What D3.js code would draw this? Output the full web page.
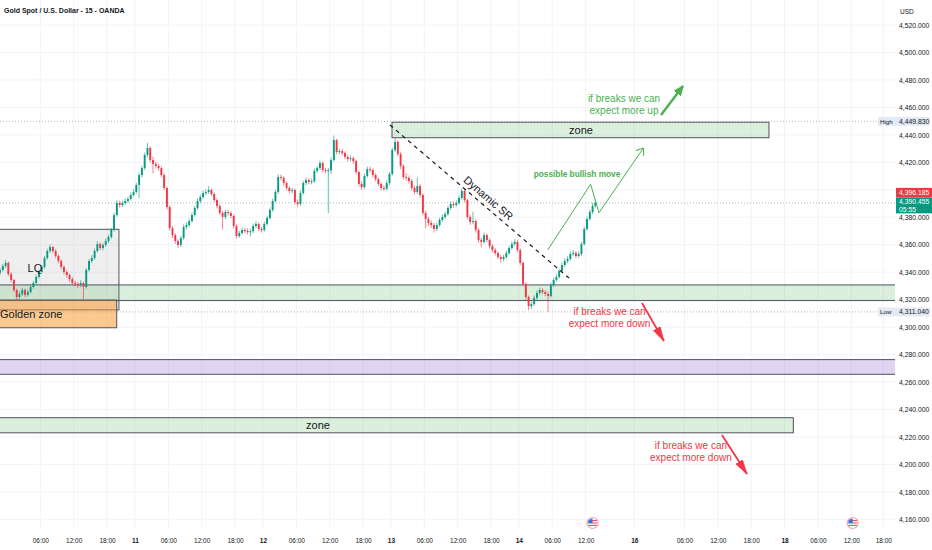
<!DOCTYPE html>
<html>
<head>
<meta charset="utf-8">
<script src="https://cdn.jsdelivr.net/npm/d3@7"></script>
<style>
  html, body { margin: 0; padding: 0; background: #fff; }
  svg { display: block; font-family: "Liberation Sans", Arial, sans-serif; }
</style>
</head>
<body>
<svg id="chart" width="932" height="550"></svg>
<script>
/*** DATA ********************************************************************/

// 30-minute candles, left to right. open = previous close.
const firstOpen = 4339.5;
const closes = [
  4341.6, 4344.5, 4346.7, 4338.6, 4334.3, 4327.0, 4321.9, 4324.1, 4327.0, 4323.4,
  4325.5, 4329.2, 4332.1, 4336.5, 4340.1, 4343.7, 4350.3, 4355.4, 4358.3, 4355.4,
  4351.8, 4348.1, 4343.7, 4340.1, 4337.9, 4335.0, 4332.1, 4331.4, 4330.8, 4332.1,
  4329.2, 4341.6, 4348.1, 4350.3, 4355.4, 4360.5, 4357.6, 4359.8, 4362.7, 4365.6,
  4370.7, 4381.6, 4390.4, 4388.9, 4390.4, 4391.8, 4393.3, 4396.2, 4398.4, 4403.5,
  4410.7, 4415.8, 4425.3, 4430.4, 4421.7, 4418.8, 4417.3, 4415.8, 4410.7, 4401.3,
  4387.4, 4372.1, 4367.0, 4362.7, 4359.8, 4364.9, 4372.9, 4374.3, 4377.2, 4381.6,
  4386.7, 4391.8, 4394.7, 4397.6, 4398.4, 4399.8, 4396.9, 4392.5, 4388.2, 4383.1,
  4380.2, 4383.8, 4383.0, 4380.9, 4373.6, 4366.3, 4368.5, 4370.7, 4370.0, 4369.2,
  4369.8, 4373.6, 4375.1, 4371.4, 4370.7, 4375.1, 4379.4, 4385.3, 4391.8, 4398.4,
  4409.3, 4408.6, 4404.9, 4401.3, 4399.1, 4399.8, 4391.1, 4389.6, 4397.6, 4404.9,
  4407.1, 4405.6, 4406.2, 4413.7, 4415.8, 4419.5, 4414.4, 4413.7, 4414.2, 4421.7,
  4436.2, 4427.5, 4428.2, 4426.8, 4423.9, 4422.4, 4423.0, 4420.9, 4412.9, 4404.2,
  4402.0, 4410.0, 4415.1, 4414.4, 4410.7, 4407.8, 4404.2, 4401.3, 4400.7, 4404.9,
  4411.5, 4429.0, 4434.8, 4426.0, 4417.3, 4409.3, 4408.6, 4406.4, 4401.3, 4398.4,
  4402.7, 4396.2, 4383.1, 4378.7, 4375.8, 4374.3, 4371.4, 4374.3, 4378.0, 4380.2,
  4382.3, 4386.7, 4389.6, 4388.9, 4390.4, 4394.0, 4399.1, 4392.5, 4380.2, 4376.5,
  4377.2, 4370.7, 4363.4, 4362.0, 4367.0, 4363.4, 4359.0, 4356.1, 4353.9, 4351.0,
  4349.6, 4351.0, 4353.9, 4357.6, 4360.5, 4362.0, 4356.1, 4346.7, 4331.4, 4321.9,
  4315.3, 4316.8, 4321.2, 4324.8, 4327.0, 4325.5, 4324.1, 4322.6, 4330.6, 4334.3,
  4336.5, 4340.8, 4345.2, 4348.1, 4349.6, 4353.2, 4353.9, 4351.8, 4353.2, 4360.5,
  4371.4, 4378.7, 4383.8, 4388.2, 4390.455
];
const highs = [
  4343.2, 4346.0, 4348.9, 4347.8, 4339.9, 4335.1, 4328.0, 4326.0, 4328.6, 4328.1,
  4327.2, 4330.9, 4333.6, 4338.2, 4341.8, 4345.0, 4351.7, 4357.0, 4360.0, 4359.2,
  4356.6, 4353.0, 4349.3, 4345.0, 4341.5, 4339.0, 4336.4, 4333.8, 4333.0, 4334.2,
  4333.0, 4343.0, 4349.5, 4352.4, 4357.1, 4362.6, 4361.8, 4361.3, 4364.5, 4367.2,
  4372.3, 4383.1, 4392.4, 4392.0, 4392.1, 4393.6, 4395.0, 4397.9, 4400.4, 4405.1,
  4412.3, 4417.6, 4427.0, 4434.1, 4431.6, 4424.0, 4420.6, 4419.0, 4417.0, 4412.0,
  4402.5, 4388.6, 4373.8, 4368.5, 4364.0, 4366.5, 4374.6, 4376.2, 4378.9, 4383.4,
  4388.2, 4393.6, 4396.3, 4399.5, 4400.3, 4402.6, 4401.0, 4398.0, 4393.7, 4389.4,
  4384.5, 4385.6, 4385.5, 4384.3, 4382.0, 4374.8, 4370.2, 4372.6, 4372.2, 4371.7,
  4371.6, 4375.5, 4377.0, 4376.3, 4373.0, 4376.8, 4381.0, 4387.0, 4393.4, 4400.0,
  4411.2, 4411.0, 4409.8, 4406.1, 4402.6, 4401.5, 4400.9, 4393.0, 4399.3, 4406.5,
  4408.9, 4408.6, 4408.0, 4415.5, 4417.4, 4421.3, 4420.6, 4416.1, 4415.8, 4423.5,
  4439.5, 4437.0, 4430.0, 4429.8, 4428.0, 4425.5, 4425.0, 4424.3, 4422.0, 4414.0,
  4406.0, 4411.7, 4416.9, 4417.0, 4415.6, 4412.0, 4409.0, 4405.5, 4403.0, 4406.6,
  4413.1, 4430.6, 4437.7, 4436.0, 4427.4, 4418.6, 4412.0, 4410.3, 4407.7, 4403.0,
  4409.0, 4404.0, 4397.4, 4384.6, 4380.2, 4377.6, 4375.8, 4376.0, 4379.7, 4382.0,
  4384.0, 4388.4, 4391.5, 4391.4, 4392.3, 4395.8, 4401.0, 4400.5, 4393.6, 4382.0,
  4384.0, 4378.5, 4372.0, 4365.0, 4368.8, 4368.2, 4364.6, 4360.4, 4357.5, 4355.2,
  4352.6, 4352.7, 4355.6, 4359.3, 4362.4, 4364.0, 4363.3, 4357.3, 4347.9, 4332.6,
  4323.0, 4318.6, 4322.9, 4326.6, 4328.8, 4328.4, 4327.0, 4325.8, 4332.3, 4336.0,
  4338.4, 4342.5, 4347.0, 4350.0, 4351.6, 4355.0, 4356.0, 4355.3, 4355.0, 4362.2,
  4373.2, 4380.5, 4385.6, 4390.4, 4392.6
];
const lows = [
  4338.0, 4340.5, 4343.0, 4337.2, 4332.6, 4325.4, 4319.0, 4320.5, 4322.8, 4321.7,
  4322.1, 4324.3, 4328.0, 4331.0, 4335.2, 4338.9, 4342.5, 4349.1, 4354.0, 4353.8,
  4350.2, 4346.5, 4342.0, 4338.4, 4336.0, 4333.1, 4330.5, 4329.6, 4328.4, 4328.9,
  4319.5, 4328.0, 4340.4, 4346.6, 4349.0, 4354.2, 4356.0, 4355.9, 4358.4, 4361.1,
  4364.3, 4369.5, 4380.3, 4387.0, 4387.5, 4389.0, 4390.3, 4392.1, 4395.0, 4397.2,
  4394.0, 4409.0, 4414.5, 4423.8, 4420.0, 4412.0, 4415.6, 4414.0, 4409.0, 4399.6,
  4385.5, 4370.3, 4364.8, 4360.6, 4357.6, 4358.5, 4363.5, 4371.0, 4372.8, 4376.0,
  4380.4, 4385.2, 4390.2, 4393.2, 4396.1, 4397.0, 4395.3, 4391.0, 4386.4, 4381.5,
  4371.0, 4378.6, 4381.2, 4379.2, 4371.8, 4364.5, 4365.0, 4367.2, 4368.3, 4367.5,
  4366.0, 4368.4, 4372.2, 4369.9, 4368.8, 4369.5, 4374.0, 4378.2, 4384.0, 4390.5,
  4397.0, 4406.8, 4403.2, 4399.6, 4397.4, 4397.5, 4389.4, 4387.6, 4388.4, 4396.3,
  4403.4, 4403.9, 4404.0, 4405.0, 4412.2, 4414.5, 4412.7, 4411.9, 4383.1, 4411.6,
  4420.5, 4425.8, 4425.9, 4425.0, 4422.2, 4420.6, 4420.9, 4419.0, 4411.2, 4402.4,
  4399.8, 4400.7, 4408.8, 4412.6, 4409.0, 4406.0, 4402.6, 4399.5, 4399.0, 4399.4,
  4403.6, 4410.3, 4427.6, 4424.3, 4415.0, 4407.5, 4406.7, 4404.5, 4399.5, 4396.6,
  4397.0, 4394.4, 4381.3, 4372.0, 4373.7, 4372.2, 4368.9, 4370.0, 4373.0, 4376.5,
  4378.8, 4381.0, 4385.3, 4387.0, 4387.4, 4389.0, 4392.8, 4390.9, 4378.4, 4374.5,
  4374.9, 4368.8, 4361.6, 4358.0, 4360.7, 4361.7, 4357.2, 4354.3, 4352.0, 4349.3,
  4347.0, 4348.0, 4349.8, 4352.5, 4356.2, 4359.0, 4354.4, 4345.0, 4329.6, 4319.8,
  4312.4, 4313.2, 4315.5, 4319.8, 4323.3, 4323.8, 4322.4, 4311.04, 4321.4, 4329.2,
  4332.8, 4335.3, 4339.6, 4343.7, 4346.6, 4348.3, 4351.8, 4350.2, 4350.5, 4352.0,
  4359.3, 4370.0, 4377.4, 4382.3, 4386.8
];
// time is counted in 15-minute bars, 0 = day 10 00:00
const firstBar = -5;
const barsPerCandle = 2;

const priceTicks = [4160, 4180, 4200, 4220, 4240, 4260, 4280, 4300, 4320, 4340,
                    4360, 4380, 4400, 4420, 4440, 4460, 4480, 4500, 4520];
const timeLabels = ["06:00", "12:00", "18:00", "11", "06:00", "12:00", "18:00", "12",
                    "06:00", "12:00", "18:00", "13", "06:00", "12:00", "18:00", "14",
                    "06:00", "12:00", "16", "06:00", "12:00", "18:00", "18",
                    "06:00", "12:00", "18:00"];
const timeBars   = [24, 48, 72, 92, 116, 140, 164, 184,
                    208, 232, 256, 276, 300, 324, 348, 368,
                    392, 416, 451, 487, 511, 535, 559,
                    583, 607, 630];
const dayLabels = ["11", "12", "13", "14", "16", "18"];
const eventBars = [421, 608];

const lastPrice = 4390.455, markPrice = 4396.185, countdown = "05:55";
const rangeHigh = 4449.830, rangeLow = 4311.040;

// boxes: [fromBar, toBar, lowPrice, highPrice]
const upperZone  = [276.8, 547.8, 4437.9, 4449.2];
const middleZone = [-9, 650, 4319.3, 4330.7];
const purpleZone = [-9, 650, 4265.6, 4276.3];
const lowerZone  = [-9, 565.3, 4223.0, 4234.0];
const goldenZone = [-9, 78.9, 4299.5, 4319.7];
const lqBox      = [-9, 80.5, 4312.5, 4371.2];

// lines: [bar, price] points
const dynamicSR   = [[275.3, 4447.2], [404.0, 4335.7]];
const bullishPath = [[388.7, 4356.1], [419.6, 4404.0], [425.6, 4383.3], [457.4, 4430.2]];
const upArrow     = [[470.2, 4454.4], [486.0, 4475.6]];
const downArrows  = [[[456.5, 4317.5], [472.3, 4289.8]], [[514.0, 4221.4], [532.0, 4193.0]]];

// notes: [bar, price] of the first line
const upNote = ["if breaks we can", "expect more up"];
const upNoteAt = [443.6, 4466.6];
const downNote = ["if breaks we can", "expect more down"];
const downNoteAt = [[433.2, 4311.9], [491.7, 4214.1]];

/*** CHART *******************************************************************/

const plotW = 895, plotH = 530;
const GREEN = "#089981", RED = "#f23645", TEXT = "#131722";
const NOTE_GREEN = "#4caf50", BOX_LINE = "#50535e";

const x = d3.scaleLinear().domain([-5, 638.4]).range([0, plotW]);
const y = d3.scaleLinear().domain([4160, 4520]).range([519.3, 25]);

const svg = d3.select("#chart");
const defs = svg.append("defs");

defs.append("clipPath").attr("id", "plotClip")
  .append("rect").attr("width", plotW).attr("height", plotH);

function marker(id, w, h, color, open) {
  let m = defs.append("marker")
    .attr("id", id)
    .attr("markerUnits", "userSpaceOnUse")
    .attr("viewBox", "0 0 " + w + " " + h)
    .attr("refX", w - 0.5).attr("refY", h / 2)
    .attr("markerWidth", w).attr("markerHeight", h)
    .attr("orient", "auto");
  m.append("path")
    .attr("d", "M0,0 L" + w + "," + h / 2 + " L0," + h + (open ? "" : " Z"))
    .attr("fill", open ? "none" : color)
    .attr("stroke", color)
    .attr("stroke-width", open ? 1 : 0.5);
}
marker("openHead", 7, 10, NOTE_GREEN, true);
marker("greenHead", 10, 9, NOTE_GREEN, false);
marker("redHead", 15, 8, RED, false);

/* grid */
let grid = svg.append("g").attr("class", "grid");
grid.selectAll("line.h").data(priceTicks).enter().append("line")
  .attr("x1", 0).attr("x2", plotW)
  .attr("y1", d => y(d)).attr("y2", d => y(d))
  .attr("stroke", "#f0f3fa");
grid.selectAll("line.v").data(timeBars).enter().append("line")
  .attr("x1", d => x(d)).attr("x2", d => x(d))
  .attr("y1", 0).attr("y2", plotH)
  .attr("stroke", "#f0f3fa");

let plot = svg.append("g").attr("clip-path", "url(#plotClip)");

/* boxes */
function box(b, fill) {
  plot.append("rect")
    .attr("x", x(b[0])).attr("width", x(b[1]) - x(b[0]))
    .attr("y", y(b[3])).attr("height", y(b[2]) - y(b[3]))
    .attr("fill", fill)
    .attr("stroke", BOX_LINE)
    .attr("stroke-width", 1);
}
box(lqBox, "rgba(120,123,134,0.12)");
box(middleZone, "rgba(76,175,80,0.2)");
box(goldenZone, "rgba(247,150,40,0.52)");
box(purpleZone, "rgba(126,87,194,0.25)");
box(lowerZone, "rgba(76,175,80,0.2)");
box(upperZone, "rgba(76,175,80,0.2)");

/* range high / low and last price lines */
[rangeHigh, rangeLow, lastPrice].forEach(function(p) {
  plot.append("line")
    .attr("x1", 0).attr("x2", plotW)
    .attr("y1", y(p)).attr("y2", y(p))
    .attr("stroke", "#9598a1")
    .attr("stroke-opacity", 0.7)
    .attr("stroke-dasharray", "1,2");
});

/* candles */
let candles = closes.map(function(c, i) {
  return {
    bar: firstBar + i * barsPerCandle,
    open: i ? closes[i - 1] : firstOpen,
    high: highs[i], low: lows[i], close: c
  };
});
let bodyW = (x(barsPerCandle) - x(0)) * 0.68;

let candleG = plot.selectAll("g.candle").data(candles).enter()
  .append("g").attr("class", "candle")
  .attr("fill", d => d.close >= d.open ? GREEN : RED)
  .attr("stroke", d => d.close >= d.open ? GREEN : RED);

candleG.append("line")
  .attr("x1", d => x(d.bar)).attr("x2", d => x(d.bar))
  .attr("y1", d => y(d.high)).attr("y2", d => y(d.low))
  .attr("stroke-width", 0.9)
  .attr("stroke-opacity", 0.7);

candleG.append("rect")
  .attr("stroke", "none")
  .attr("x", d => x(d.bar) - bodyW / 2)
  .attr("width", bodyW)
  .attr("y", d => y(Math.max(d.open, d.close)))
  .attr("height", d => Math.max(1, Math.abs(y(d.open) - y(d.close))));

/* trend line + arrows */
let line = d3.line().x(d => x(d[0])).y(d => y(d[1]));

plot.append("path").attr("d", line(dynamicSR))
  .attr("fill", "none").attr("stroke", TEXT)
  .attr("stroke-width", 1.2).attr("stroke-dasharray", "4,4");

plot.append("path").attr("d", line(bullishPath))
  .attr("fill", "none").attr("stroke", NOTE_GREEN)
  .attr("stroke-width", 1)
  .attr("marker-end", "url(#openHead)");

plot.append("path").attr("d", line(upArrow))
  .attr("fill", "none").attr("stroke", NOTE_GREEN)
  .attr("stroke-width", 2.4)
  .attr("marker-end", "url(#greenHead)");

downArrows.forEach(function(a) {
  plot.append("path").attr("d", line(a))
    .attr("fill", "none").attr("stroke", RED)
    .attr("stroke-width", 1.8)
    .attr("marker-end", "url(#redHead)");
});

/* drawing texts */
function label(txt, bar, price, opts) {
  return plot.append("text")
    .attr("x", x(bar)).attr("y", y(price))
    .attr("dominant-baseline", "central")
    .attr("text-anchor", opts.anchor || "middle")
    .attr("font-size", opts.size)
    .attr("fill", opts.color || TEXT)
    .text(txt);
}
label("zone", 412.7, (upperZone[2] + upperZone[3]) / 2, {size: 11});
label("zone", 223.6, (lowerZone[2] + lowerZone[3]) / 2, {size: 11});
label("LQ", 20.1, 4343.0, {size: 11});
label("Golden zone", -5, (goldenZone[2] + goldenZone[3]) / 2, {size: 11, anchor: "start"});
label("possible bullish move", 409.8, 4411.5, {size: 8.3, color: NOTE_GREEN})
  .attr("font-weight", 600);

// "Dynamic SR" written along the dashed line
let p0 = [x(dynamicSR[0][0]), y(dynamicSR[0][1])],
    p1 = [x(dynamicSR[1][0]), y(dynamicSR[1][1])],
    ang = Math.atan2(p1[1] - p0[1], p1[0] - p0[0]),
    t = 0.52,
    cx = p0[0] + (p1[0] - p0[0]) * t + Math.sin(ang) * 8.5,
    cy = p0[1] + (p1[1] - p0[1]) * t - Math.cos(ang) * 8.5;
plot.append("text")
  .attr("transform", "translate(" + cx + "," + cy + ") rotate(" + (ang * 180 / Math.PI) + ")")
  .attr("text-anchor", "middle")
  .attr("dominant-baseline", "central")
  .attr("font-size", 11)
  .attr("fill", TEXT)
  .text("Dynamic SR");

function note(lines, at, color) {
  let t = plot.append("text")
    .attr("x", x(at[0])).attr("y", y(at[1]))
    .attr("dominant-baseline", "central")
    .attr("text-anchor", "middle")
    .attr("font-size", 10)
    .attr("fill", color);
  lines.forEach(function(l, i) {
    t.append("tspan").attr("x", x(at[0])).attr("dy", i ? 12 : 0).text(l);
  });
}
note(upNote, upNoteAt, NOTE_GREEN);
downNoteAt.forEach(a => note(downNote, a, RED));

/* title */
svg.append("text")
  .attr("x", 4).attr("y", 13)
  .attr("font-size", 7).attr("font-weight", 600)
  .attr("fill", TEXT)
  .text("Gold Spot / U.S. Dollar - 15 - OANDA");

/* price tags on the right scale: the mark tag is pushed up so it sits on the last-price tag */
let fmt = d3.format(",.3f");
let lastTop = y(lastPrice) - 5.5, lastH = 16, markH = 9.5;
let tagTop = lastTop - markH, tagBottom = lastTop + lastH;

/* price axis; labels that the tags cover are left out */
let yAxisG = svg.append("g")
  .attr("transform", "translate(899,0)")
  .call(d3.axisRight(y).tickValues(priceTicks).tickFormat(fmt).tickSize(0).tickPadding(0));
yAxisG.select(".domain").remove();
yAxisG.attr("font-family", null).attr("font-size", 6.8);
yAxisG.selectAll(".tick")
  .filter(d => y(d) + 3.5 > tagTop && y(d) - 3.5 < tagBottom)
  .remove();
yAxisG.selectAll("text").attr("fill", TEXT);

svg.append("text").attr("x", 900).attr("y", 14)
  .attr("font-size", 6.5).attr("fill", TEXT).text("USD");

/* time axis */
let xAxisG = svg.append("g")
  .attr("transform", "translate(0,538.5)")
  .call(d3.axisBottom(x).tickValues(timeBars).tickFormat((d, i) => timeLabels[i]).tickSize(0).tickPadding(0));
xAxisG.select(".domain").remove();
xAxisG.attr("font-family", null).attr("font-size", 6.5);
xAxisG.selectAll("text")
  .attr("fill", TEXT)
  .attr("font-weight", (d, i) => dayLabels.includes(timeLabels[i]) ? 700 : 400);

/* economic event flags */
eventBars.forEach(function(b) {
  let g = svg.append("g").attr("transform", "translate(" + x(b) + ",523)");
  g.append("circle").attr("r", 5.5).attr("fill", "#fff").attr("stroke", "#f7a1ad").attr("stroke-width", 1.2);
  [-2.4, 0, 2.4].forEach(function(dy) {
    g.append("line").attr("x1", -4.2).attr("x2", 4.2).attr("y1", dy).attr("y2", dy)
      .attr("stroke", "#e8505f").attr("stroke-width", 1.1);
  });
  g.append("path").attr("d", "M-4.6,0 L0,0 L0,-4.6 A4.6,4.6 0 0 0 -4.6,0 Z").attr("fill", "#3d6fd8");
});

[[rangeHigh, "High"], [rangeLow, "Low"]].forEach(function(r) {
  svg.append("rect").attr("x", 878).attr("y", y(r[0]) - 4.5).attr("width", 52).attr("height", 9)
    .attr("fill", "#e3eaf6");
  svg.append("text").attr("x", 880).attr("y", y(r[0])).attr("dominant-baseline", "central")
    .attr("font-size", 6.2).attr("fill", TEXT).text(r[1]);
  svg.append("text").attr("x", 899).attr("y", y(r[0])).attr("dominant-baseline", "central")
    .attr("font-size", 6.8).attr("fill", TEXT).text(fmt(r[0]));
});

svg.append("rect").attr("x", 896).attr("y", tagTop).attr("width", 36).attr("height", markH).attr("fill", RED);
svg.append("text").attr("x", 899).attr("y", tagTop + markH / 2).attr("dominant-baseline", "central")
  .attr("font-size", 6.8).attr("fill", "#fff").text(fmt(markPrice));

svg.append("rect").attr("x", 896).attr("y", lastTop).attr("width", 36).attr("height", lastH).attr("fill", GREEN);
svg.append("text").attr("x", 899).attr("y", lastTop + 4.5).attr("dominant-baseline", "central")
  .attr("font-size", 6.8).attr("fill", "#fff").text(fmt(lastPrice));
svg.append("text").attr("x", 899).attr("y", lastTop + 12).attr("dominant-baseline", "central")
  .attr("font-size", 6.8).attr("fill", "#fff").text(countdown);
</script>
</body>
</html>
